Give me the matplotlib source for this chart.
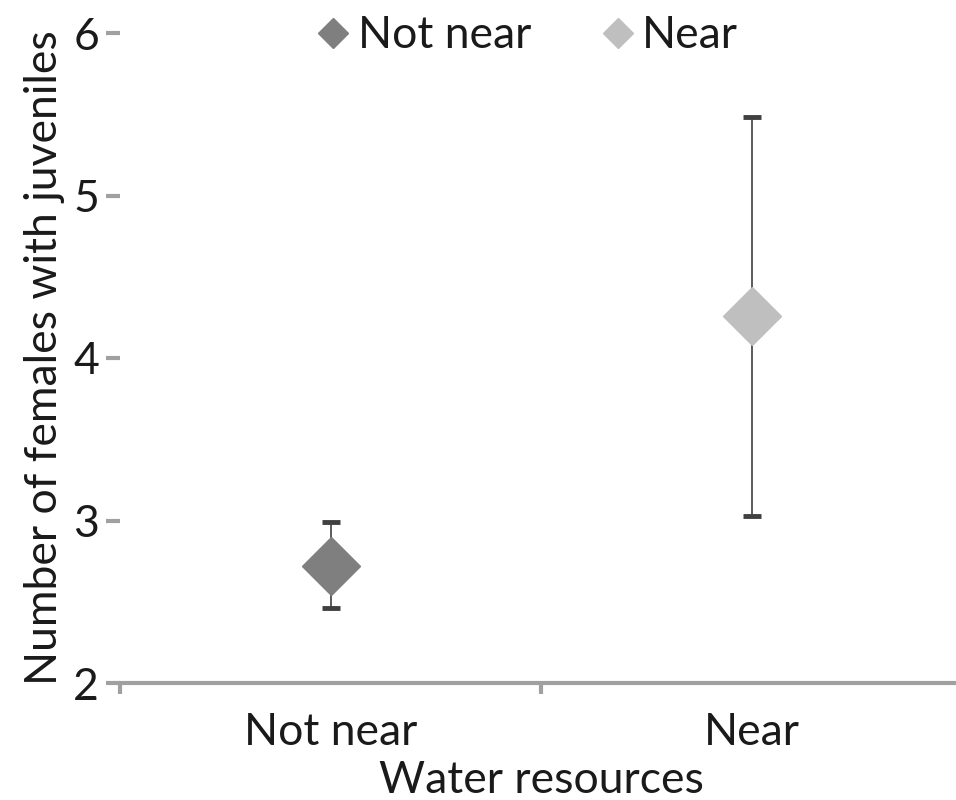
import matplotlib
matplotlib.use("Agg")
import matplotlib.pyplot as plt

categories = ["Not near", "Near"]
means = [2.72, 4.26]
upper = [2.99, 5.48]
lower = [2.46, 3.03]
colors = ["#7f7f7f", "#bfbfbf"]
yticks = [2, 3, 4, 5, 6]

plt.rcParams['font.family'] = ['Lato', 'DejaVu Sans']
FS = 32

fig = plt.figure(figsize=(9.56, 8), dpi=100)
ax = fig.add_axes([120/956, 117/800, 842/956, 650/800])

for i, (c, m, u, l, col) in enumerate(zip(categories, means, upper, lower, colors)):
    ax.errorbar([i], [m], yerr=[[m - l], [u - m]], fmt='none', ecolor='#404040',
                elinewidth=1.2, capsize=6.5, capthick=3.5, zorder=2)
    ax.plot([i], [m], marker='D', markersize=30, color=col, linestyle='none',
            label=c, zorder=3)

ax.set_xlim(-0.5, 1.5)
ax.set_ylim(2, 6)
ax.set_xticks([-0.5, 0.5, 1.5], minor=False)
ax.set_xticklabels([])
ax.set_xticks([0, 1], minor=True)
ax.set_xticklabels(categories, minor=True)
ax.tick_params(axis='x', which='minor', length=0, labelsize=FS, pad=21, labelcolor='#1a1a1a')
ax.tick_params(axis='x', which='major', length=8, width=3, color='#a0a0a0', direction='out')
ax.set_yticks(yticks)
ax.set_yticklabels([str(v) for v in yticks])
ax.tick_params(axis='y', length=10, width=3, color='#a0a0a0', labelsize=FS, pad=5, labelcolor='#1a1a1a')

for s in ['left', 'right', 'top']:
    ax.spines[s].set_visible(False)
ax.spines['bottom'].set_color('#a0a0a0')
ax.spines['bottom'].set_linewidth(3)

ax.set_xlabel("Water resources", fontsize=FS, color='#1a1a1a', labelpad=5)
ax.set_ylabel("Number of females with juveniles", fontsize=FS, color='#1a1a1a', labelpad=6)

leg = ax.legend(loc='center', bbox_to_anchor=(528/956, 1 - 36/800), bbox_transform=fig.transFigure,
                ncol=2, frameon=False, fontsize=FS, markerscale=0.5, handlelength=0.7,
                handletextpad=0.2, columnspacing=1.6, borderaxespad=0)
for t in leg.get_texts():
    t.set_color('#1a1a1a')

fig.savefig("out.png", dpi=100)
